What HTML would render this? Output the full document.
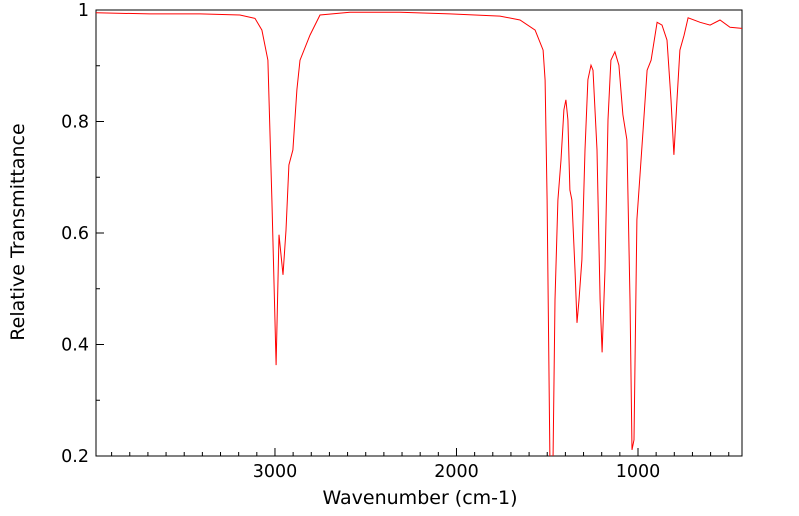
<!DOCTYPE html>
<html><head><meta charset="utf-8"><style>
body{margin:0;background:#fff;}
svg{display:block;font-family:"DejaVu Sans","Liberation Sans",sans-serif;}
</style></head><body>
<svg id="chart" width="799" height="516" viewBox="0 0 799 516" xmlns="http://www.w3.org/2000/svg">
<defs><clipPath id="clip"><rect x="96" y="10" width="646" height="446"/></clipPath></defs>
<rect x="96" y="10" width="646" height="446" fill="#fff" stroke="#000" stroke-width="1"/>
<g id="ticks"></g>
<g id="labels"></g>
<path id="line" fill="none" stroke="#ff0000" stroke-width="1" clip-path="url(#clip)"/>
<text x="420" y="504" font-size="19" text-anchor="middle">Wavenumber (cm-1)</text>
<text transform="translate(24,232) rotate(-90)" font-size="19" text-anchor="middle">Relative Transmittance</text>
</svg>
<script>
const wavenumbers = [3986,3689,3413,3193,3110,3072,3039,3017,2994,2978,2956,2939,2923,2901,2879,2862,2807,2752,2587,2311,2036,1760,1650,1567,1523,1512,1501,1485,1468,1457,1441,1424,1408,1397,1386,1375,1364,1347,1336,1325,1309,1292,1276,1259,1248,1226,1209,1198,1182,1165,1149,1127,1105,1083,1061,1044,1033,1022,1006,989,972,950,928,895,868,840,818,802,785,769,746,724,658,603,548,493,427];
const transmittance = [0.995,0.993,0.993,0.991,0.985,0.964,0.910,0.659,0.363,0.597,0.525,0.605,0.722,0.749,0.857,0.910,0.955,0.991,0.996,0.996,0.993,0.989,0.982,0.964,0.928,0.874,0.659,0.18,0.19,0.480,0.659,0.731,0.821,0.839,0.803,0.677,0.659,0.534,0.439,0.480,0.552,0.749,0.875,0.901,0.892,0.749,0.480,0.386,0.534,0.803,0.910,0.925,0.901,0.812,0.767,0.480,0.211,0.229,0.624,0.704,0.785,0.892,0.910,0.978,0.973,0.946,0.839,0.740,0.839,0.928,0.955,0.986,0.978,0.973,0.982,0.969,0.967];
const xTickLabels = [3000,2000,1000];
const yTickLabels = [0.2,0.4,0.6,0.8,1];

const X0=96,X1=742,Y0=10,Y1=456;
const wnLeft=3986,wnRight=427;
const xs=w=>X0+(wnLeft-w)/(wnLeft-wnRight)*(X1-X0);
const ys=t=>Y1-(t-0.2)/0.8*(Y1-Y0);
const NS="http://www.w3.org/2000/svg";
const line=document.getElementById('line');
line.setAttribute('d',wavenumbers.map((w,i)=>(i?'L':'M')+xs(w).toFixed(1)+' '+ys(transmittance[i]).toFixed(1)).join(''));
const tg=document.getElementById('ticks'),lg=document.getElementById('labels');
function mk(tag,attrs,parent){const e=document.createElementNS(NS,tag);for(const k in attrs)e.setAttribute(k,attrs[k]);parent.appendChild(e);return e;}
for(let w=3900;w>=500;w-=100){
  const x=xs(w);const major=w%1000===0;
  const t=mk('line',{x1:x,x2:x,y1:Y1,y2:Y1-(major?8:4),stroke:'#000'},tg);
  
  
}
xTickLabels.forEach(w=>{
  const t=mk('text',{x:xs(w),y:Y1+21,'font-size':17.5,'text-anchor':'middle'},lg);
  t.textContent=w;
  
  
});
for(let k=2;k<=10;k++){
  const y=ys(k/10);const major=k%2===0;
  const t=mk('line',{x1:X0,x2:X0+(major?8:4),y1:y,y2:y,stroke:'#000'},tg);
  
  
}
yTickLabels.forEach(v=>{
  const t=mk('text',{x:89,y:ys(v)+6,'font-size':17.5,'text-anchor':'end'},lg);
  t.textContent=String(v);
  
  
});
</script>
</body></html>
